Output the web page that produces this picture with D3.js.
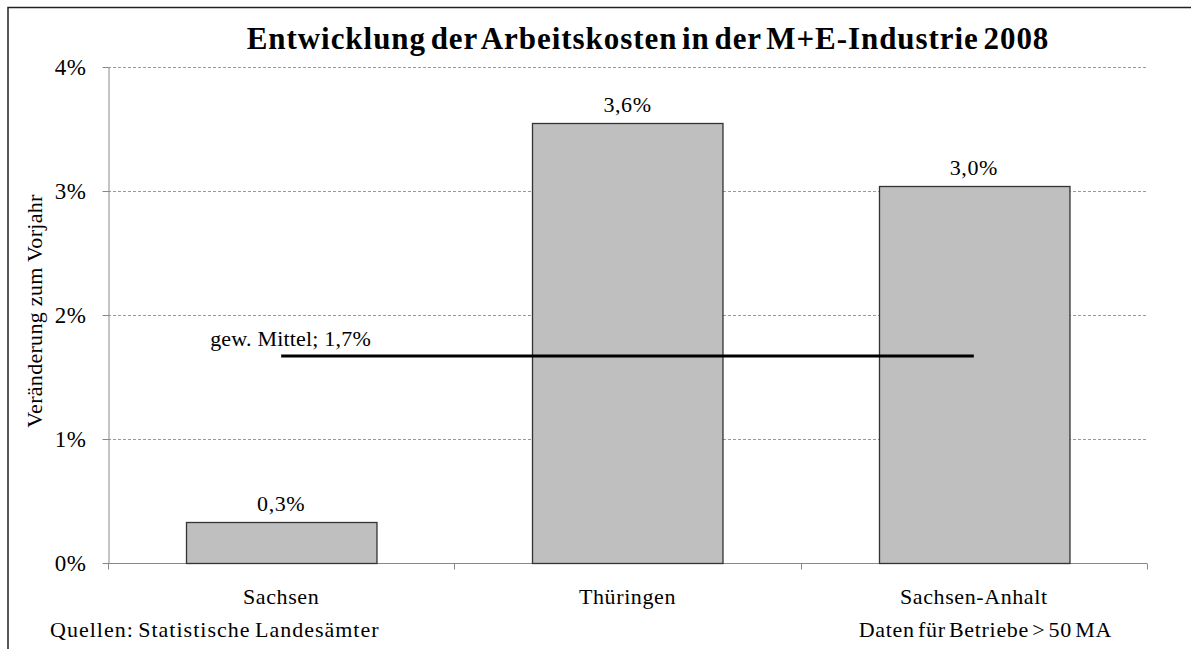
<!DOCTYPE html>
<html>
<head>
<meta charset="utf-8">
<script src="https://cdn.jsdelivr.net/npm/d3@7"></script>
<style>
  html, body { margin: 0; padding: 0; background: #fff; }
  svg { display: block; }
  text { font-family: 'Liberation Serif', 'Times New Roman', serif; fill: #000; }
</style>
</head>
<body>
<svg id="chart" width="1191" height="649"></svg>
<script>
// data
const regions = ["Sachsen", "Thüringen", "Sachsen-Anhalt"]
const change = [0.33, 3.55, 3.04]
const changeLabels = ["0,3%", "3,6%", "3,0%"]
const meanValue = 1.67
const meanLabel = "gew. Mittel; 1,7%"
const yTicks = [0, 1, 2, 3, 4]

const width = 1191
const height = 649
const margin = { left: 108, right: 44, top: 67, bottom: 86 }
const fs = 22
const ls = 0.6

const svg = d3.select("#chart")

// outer frame
svg.append("rect")
  .attr("x", 8).attr("y", 7.5)
  .attr("width", width + 10).attr("height", height + 10)
  .attr("fill", "none")
  .attr("stroke", "#222")
  .attr("stroke-width", 1.5)

const x = d3.scaleBand()
  .domain(regions)
  .range([margin.left, width - margin.right])
  .paddingInner(0.45)
  .paddingOuter(0.225)

const xOuter = d3.scaleBand()
  .domain(regions)
  .range([margin.left, width - margin.right])

const y = d3.scaleLinear()
  .domain([0, 4])
  .range([height - margin.bottom, margin.top])

// gridlines
svg.append("g")
  .selectAll("line")
  .data(yTicks.slice(1))
  .join("line")
  .attr("x1", margin.left)
  .attr("x2", width - margin.right)
  .attr("y1", d => Math.round(y(d)) + 0.5)
  .attr("y2", d => Math.round(y(d)) + 0.5)
  .attr("stroke", "#999")
  .attr("stroke-width", 1)
  .attr("stroke-dasharray", "3,2")

// y axis
const yAxis = svg.append("g")
  .attr("transform", `translate(${margin.left + 0.5},0)`)
  .call(d3.axisLeft(y).tickValues(yTicks).tickFormat(d => d + "%").tickSize(6).tickSizeOuter(0).tickPadding(16))
yAxis.selectAll("path, line").attr("stroke", "#888")
yAxis.selectAll("text")
  .attr("font-family", null)
  .attr("font-size", 23)
  .attr("letter-spacing", ls)
  .attr("fill", "#000")

// x axis, ticks sit on the band boundaries
const xAxis = svg.append("g")
  .attr("transform", `translate(0,${Math.round(y(0)) + 0.5})`)
xAxis.append("line")
  .attr("x1", margin.left).attr("x2", width - margin.right)
  .attr("stroke", "#888")
xAxis.selectAll(".tick")
  .data(regions.map(r => xOuter(r)).concat([width - margin.right]))
  .join("line")
  .attr("x1", d => Math.round(d) + 0.5)
  .attr("x2", d => Math.round(d) + 0.5)
  .attr("y1", 0).attr("y2", 6)
  .attr("stroke", "#888")
xAxis.selectAll("text")
  .data(regions)
  .join("text")
  .attr("x", d => x(d) + x.bandwidth() / 2)
  .attr("y", 40)
  .attr("text-anchor", "middle")
  .attr("font-size", fs)
  .attr("letter-spacing", ls)
  .text(d => d)

// bars
svg.append("g")
  .selectAll("rect")
  .data(regions)
  .join("rect")
  .attr("x", d => Math.round(x(d)) + 0.5)
  .attr("y", (d, i) => Math.round(y(change[i])) + 0.5)
  .attr("width", x.bandwidth())
  .attr("height", (d, i) => Math.round(y(0)) - Math.round(y(change[i])))
  .attr("fill", "#bfbfbf")
  .attr("stroke", "#333")
  .attr("stroke-width", 1.3)

// bar labels
svg.append("g")
  .selectAll("text")
  .data(regions)
  .join("text")
  .attr("x", d => x(d) + x.bandwidth() / 2)
  .attr("y", (d, i) => y(change[i]) - 11)
  .attr("text-anchor", "middle")
  .attr("font-size", fs)
  .attr("letter-spacing", ls)
  .text((d, i) => changeLabels[i])

// weighted mean line from first to last category centre
const xc = d => xOuter(d) + xOuter.bandwidth() / 2
svg.append("line")
  .attr("x1", xc(regions[0]))
  .attr("x2", xc(regions[regions.length - 1]))
  .attr("y1", y(meanValue))
  .attr("y2", y(meanValue))
  .attr("stroke", "#000")
  .attr("stroke-width", 3)

svg.append("text")
  .attr("x", xc(regions[0]) - 71)
  .attr("y", y(meanValue) - 10)
  .attr("font-size", fs)
  .attr("letter-spacing", 0.2)
  .text(meanLabel)

// title
svg.append("text")
  .attr("x", 648)
  .attr("y", 49)
  .attr("text-anchor", "middle")
  .attr("font-weight", "bold")
  .attr("font-size", 31)
  .attr("letter-spacing", 0.95)
  .attr("word-spacing", -4)
  .text("Entwicklung der Arbeitskosten in der M+E-Industrie 2008")

// y axis title
svg.append("text")
  .attr("transform", `translate(42,${(y(0) + y(4)) / 2 - 4}) rotate(-90)`)
  .attr("text-anchor", "middle")
  .attr("font-size", fs)
  .attr("letter-spacing", 0.3)
  .text("Veränderung zum Vorjahr")

// footnotes
svg.append("text")
  .attr("x", 50)
  .attr("y", 637)
  .attr("font-size", fs)
  .attr("letter-spacing", 1.0)
  .attr("word-spacing", -2)
  .text("Quellen: Statistische Landesämter")

svg.append("text")
  .attr("x", 1112)
  .attr("y", 637)
  .attr("text-anchor", "end")
  .attr("font-size", fs)
  .attr("letter-spacing", 0.7)
  .attr("word-spacing", -3)
  .text("Daten für Betriebe > 50 MA")
</script>
</body>
</html>
